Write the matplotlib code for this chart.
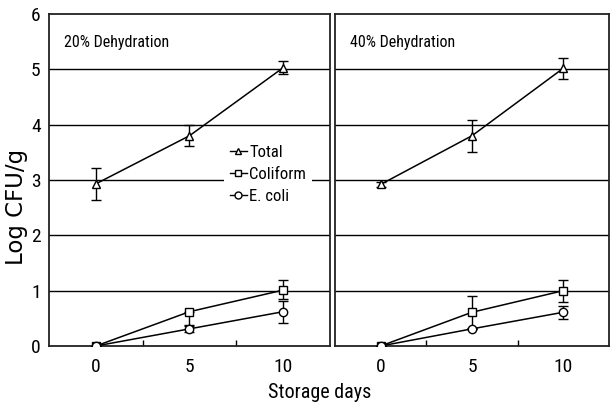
import matplotlib
matplotlib.use("Agg")
import matplotlib.pyplot as plt
from matplotlib.lines import Line2D

plt.rcParams["font.family"] = ["Roboto Condensed", "Archivo Narrow",
                               "PT Sans Narrow", "DejaVu Sans"]

days = [0, 5, 10]
panels = ["20% Dehydration", "40% Dehydration"]

# 20% dehydration
total_20 = [2.93, 3.80, 5.03]
total_20_err = [0.29, 0.19, 0.12]
coli_20 = [0.0, 0.62, 1.01]
coli_20_lo = [0.0, 0.24, 0.16]
coli_20_hi = [0.0, 0.0, 0.18]
ecoli_20 = [0.0, 0.31, 0.62]
ecoli_20_err = [0.0, 0.05, 0.20]

# 40% dehydration
total_40 = [2.92, 3.80, 5.02]
total_40_err = [0.05, 0.29, 0.19]
coli_40 = [0.0, 0.61, 1.00]
coli_40_err = [0.0, 0.29, 0.20]
ecoli_40 = [0.0, 0.31, 0.61]
ecoli_40_err = [0.0, 0.0, 0.12]

series = [
    [(total_20, total_20_err), (coli_20, [coli_20_lo, coli_20_hi]),
     (ecoli_20, ecoli_20_err)],
    [(total_40, total_40_err), (coli_40, coli_40_err),
     (ecoli_40, ecoli_40_err)],
]
labels = ["Total", "Coliform", "E. coli"]
markers = ["^", "s", "o"]

W, H = 611, 407
fig = plt.figure(figsize=(W / 100, H / 100), dpi=100)
boxes = [(49, 330), (335, 609)]
top, bottom = 14, 346

for i, (x0, x1) in enumerate(boxes):
    ax = fig.add_axes([x0 / W, 1 - bottom / H, (x1 - x0) / W, (bottom - top) / H])
    for y in range(1, 6):
        ax.axhline(y, color="black", lw=1.0, zorder=1)
    for (vals, errs), m in zip(series[i], markers):
        ax.errorbar(days, vals, yerr=errs, marker=m, ms=6, mfc="white",
                    mec="black", mew=1.0, color="black", lw=1.1,
                    ecolor="black", elinewidth=1.0, capsize=3.5, capthick=1.0,
                    zorder=3)
    ax.set_xlim(-2.5, 12.5)
    ax.set_ylim(0, 6)
    ax.set_xticks(days)
    ax.set_xticks([2.5, 7.5], minor=True)
    ax.tick_params(axis="x", which="major", length=0, labelsize=14, pad=9)
    ax.tick_params(axis="x", which="minor", direction="in", length=4.5,
                   width=1.0)
    ax.set_yticks(range(0, 7))
    if i == 0:
        ax.tick_params(axis="y", length=0, labelsize=14, pad=6)
    else:
        ax.tick_params(axis="y", length=0, labelleft=False)
    for s in ax.spines.values():
        s.set_linewidth(1.3)
        s.set_color("#222222")
    ax.text(0.055, 0.915, panels[i], transform=ax.transAxes, fontsize=11.5,
            ha="left", va="center")
    if i == 0:
        handles = [Line2D([], [], color="black", lw=1.0, marker=m, ms=5,
                          mfc="white", mec="black") for m in markers]
        leg = ax.legend(handles, labels, loc="upper left",
                        bbox_to_anchor=(0.623, 0.622), borderaxespad=0,
                        frameon=True, facecolor="white", edgecolor="none",
                        framealpha=1, fontsize=12, handlelength=1.0,
                        handletextpad=0.15, labelspacing=0.42, borderpad=0.35,
                        fancybox=False)
        leg.set_zorder(2)

fig.text(17 / W, 1 - 207 / H, "Log CFU/g", rotation=90, ha="center",
         va="center", fontsize=16.5, family=["DejaVu Sans"])
fig.text(320 / W, 1 - 393 / H, "Storage days", ha="center", va="center",
         fontsize=14.5)

fig.savefig("out.png", dpi=100)
